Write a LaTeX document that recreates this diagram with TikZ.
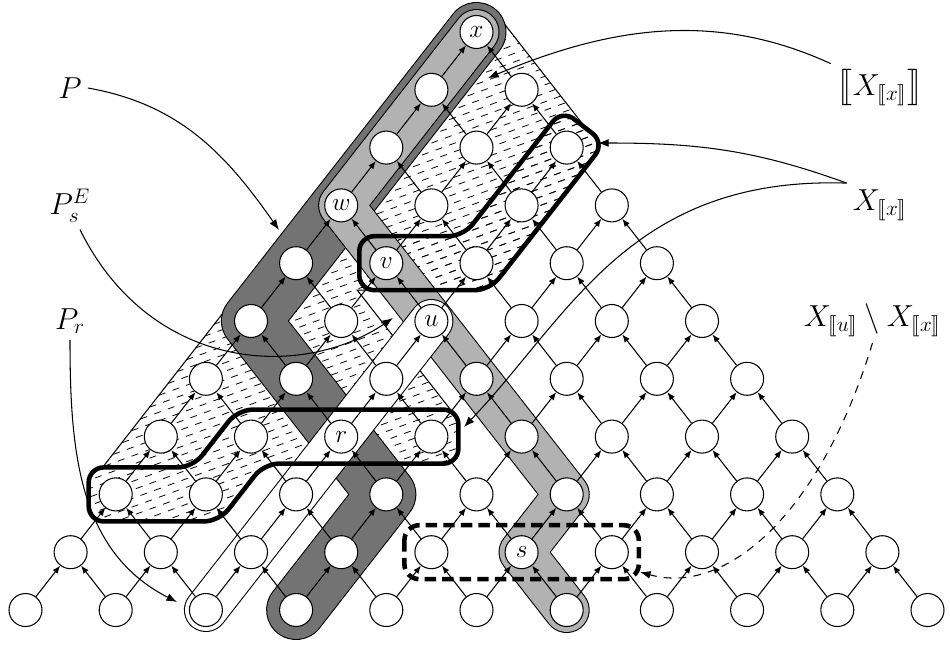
\documentclass[tikz,border=0pt]{standalone}
\usepackage{amsmath,amssymb,stmaryrd}
\usetikzlibrary{arrows.meta,calc}

\definecolor{pathdark}{gray}{0.45}
\definecolor{pathlight}{gray}{0.70}

% outlines of the two parts of X and of the hatched hull
\newcommand{\upperxpath}{($(p_8_6)+(-0.54,0.54)$) -- ($(p_10_6)+(-0.263,0.54)$) -- ($(p_12_8)+(-0.094,0.758)$) -- ($(p_12_8)+(0.758,0.094)$) -- ($(p_10_6)+(0.263,-0.54)$) -- ($(p_8_6)+(-0.54,-0.54)$) -- cycle}
\newcommand{\lowerxpath}{($(p_2_2)+(-0.54,0.54)$) -- ($(p_4_2)+(-0.263,0.54)$) -- ($(p_5_3)+(-0.263,0.54)$) -- ($(p_9_3)+(0.54,0.54)$) -- ($(p_9_3)+(0.54,-0.54)$) -- ($(p_5_3)+(0.263,-0.54)$) -- ($(p_4_2)+(0.263,-0.54)$) -- ($(p_2_2)+(-0.54,-0.54)$) -- cycle}
\newcommand{\hullpath}{($(p_2_2)+(-0.263,0.54)$) -- ($(p_10_10)+(-0.426,0.332)$) arc[start angle=142,end angle=38,radius=0.54] -- ($(p_12_8)+(0.426,0.332)$) arc[start angle=38,end angle=-38,radius=0.54] -- ($(p_10_6)+(0.263,-0.54)$) -- ($(p_8_6)+(-0.58,-0.54)$) -- ($(p_8_6)+(1.283,-2.928)$) -- ($(p_5_3)+(-0.263,0.54)$) -- ($(p_4_2)+(-0.263,0.54)$) -- cycle}
\newcommand{\hatchlines}{%
  \foreach \i in {0,...,90}{
    \pgfmathsetmacro\hy{-3.5+0.17*\i}
    \pgfmathsetmacro\hs{0.1*mod(\i,3)}
    \draw[hatchline] ($(-2,\hy)+(200:\hs)$) -- ++(20:32);
  }}

\begin{document}
\begin{tikzpicture}[x=1cm,y=1cm]
\tikzset{
  gridnode/.style={circle,draw=black,fill=white,line width=0.6pt,minimum size=6.6mm,inner sep=0pt},
  nodetext/.style={font=\fontsize{15}{17}\selectfont},
  gridedge/.style={draw=black,line width=0.6pt,-{Latex[length=4.5pt,width=3.6pt]}},
  band/.style={line width=#1-1.2pt,line cap=round,line join=round,
    preaction={draw=black,line width=#1,line cap=round,line join=round}},
  hatchline/.style={line width=0.45pt,dash pattern=on 0.14cm off 0.15cm},
  hulledge/.style={draw=black,line width=0.6pt},
  xregion/.style={draw=black,line width=2.6pt,rounded corners=3mm},
  xdiff/.style={xregion,dash pattern=on 6.5pt off 3.5pt},
  labeltext/.style={font=\fontsize{16.5}{19}\selectfont},
  annot/.style={draw=black,line width=0.6pt,-{Latex[length=6pt,width=4.5pt]}}
}
\useasboundingbox (0,0) rectangle (19,12.92);

% grid positions
\foreach \k in {0,...,10}{
  \pgfmathtruncatemacro\jmax{10-\k}
  \foreach \j in {0,...,\jmax}{
    \pgfmathtruncatemacro\col{\k+2*\j}
    \coordinate (p_\col_\k) at ({0.51+0.902*\col},{0.72+1.156*\k});
  }
}

% hatched hull
\begin{scope}
  \clip[rounded corners=3mm] \upperxpath;
  \hatchlines
\end{scope}
\begin{scope}
  \clip[rounded corners=3mm] \lowerxpath;
  \hatchlines
\end{scope}
\begin{scope}
  \clip \hullpath;
  \hatchlines
\end{scope}
\draw[hulledge] ($(p_2_2)+(-0.263,0.54)$) -- ($(p_10_10)+(-0.426,0.332)$) arc[start angle=142,end angle=38,radius=0.54] -- ($(p_12_8)+(0.39,0.38)$);
\draw[hulledge] ($(p_8_6)+(0,-0.54)$) -- ($(p_8_6)+(-0.58,-0.54)$) -- ($(p_8_6)+(1.283,-2.928)$);

% paths P, P_s^E, P_r
\draw[band=12mm,draw=pathdark] (p_6_0) -- (p_8_2) -- (p_5_5) -- (p_10_10);
\draw[band=9.2mm,draw=pathlight] (p_12_0) -- (p_11_1) -- (p_12_2) -- (p_7_7) -- (p_10_10);
\draw[band=8.8mm,draw=white] (p_4_0) -- (p_9_5);

% grid
\foreach \k in {0,...,10}{
  \pgfmathtruncatemacro\jmax{10-\k}
  \foreach \j in {0,...,\jmax}{
    \pgfmathtruncatemacro\col{\k+2*\j}
    \node[gridnode] (n_\col_\k) at (p_\col_\k) {};
  }
}
\foreach \k in {1,...,10}{
  \pgfmathtruncatemacro\jmax{10-\k}
  \pgfmathtruncatemacro\kb{\k-1}
  \foreach \j in {0,...,\jmax}{
    \pgfmathtruncatemacro\col{\k+2*\j}
    \pgfmathtruncatemacro\cleft{\col-1}
    \pgfmathtruncatemacro\cright{\col+1}
    \draw[gridedge] (n_\cleft_\kb) -- (n_\col_\k);
    \draw[gridedge] (n_\cright_\kb) -- (n_\col_\k);
  }
}
\node[nodetext] at (n_10_10) {$x$};
\node[nodetext] at (n_7_7) {$w$};
\node[nodetext] at (n_8_6) {$v$};
\node[nodetext] at (n_9_5) {$u$};
\node[nodetext] at (n_7_3) {$r$};
\node[nodetext] at (n_11_1) {$s$};

% X and X_u minus X_x
\draw[xregion] \upperxpath;
\draw[xregion] \lowerxpath;
\draw[xdiff] ($(p_9_1)+(-0.54,0.54)$) rectangle ($(p_13_1)+(0.54,-0.54)$);

% labels
\node[labeltext] (lbl_P) at (1.40,11.16) {$P$};
\node[labeltext] (lbl_PsE) at (1.40,8.80) {$P_s^E$};
\node[labeltext] (lbl_Pr) at (1.40,6.50) {$P_r$};
\node[labeltext] (lbl_XX) at (17.6,11.16) {$\bigl\llbracket X_{\llbracket x\rrbracket}\bigr\rrbracket$};
\node[labeltext] (lbl_Xx) at (17.6,8.82) {$X_{\llbracket x\rrbracket}$};
\node[labeltext] (lbl_Xu) at (17.45,6.52) {$X_{\llbracket u\rrbracket}\setminus X_{\llbracket x\rrbracket}$};
\coordinate (tip_P) at (5.58,8.32);
\coordinate (tip_PsE) at (7.86,6.56);
\coordinate (tip_Pr) at (3.54,0.88);
\coordinate (tip_XX) at (9.76,11.36);
\coordinate (tip_Xx1) at (11.96,10.06);
\coordinate (tip_Xx2) at (9.28,4.38);
\coordinate (tip_Xu) at (12.8,1.48);
\draw[annot] (lbl_P.east) to[out=-10,in=125] (tip_P);
\draw[annot] ($(lbl_PsE.south)+(0.2,-0.02)$) .. controls (3.0,5.5) and (6.0,5.3) .. (tip_PsE);
\draw[annot] (lbl_Pr.south) to[out=-90,in=153] (tip_Pr);
\draw[annot] (lbl_XX.north west) .. controls (14.4,12.66) and (12.34,12.45) .. (tip_XX);
\draw[annot] (lbl_Xx.north west) to[out=160,in=0] (tip_Xx1);
\draw[annot] (lbl_Xx.north west) .. controls (12.6,9.4) and (11.4,6.6) .. (tip_Xx2);
\draw[annot,dash pattern=on 4.5pt off 4pt] (lbl_Xu.south) .. controls (16.4,2.6) and (14.5,1.0) .. (tip_Xu);
\end{tikzpicture}
\end{document}
